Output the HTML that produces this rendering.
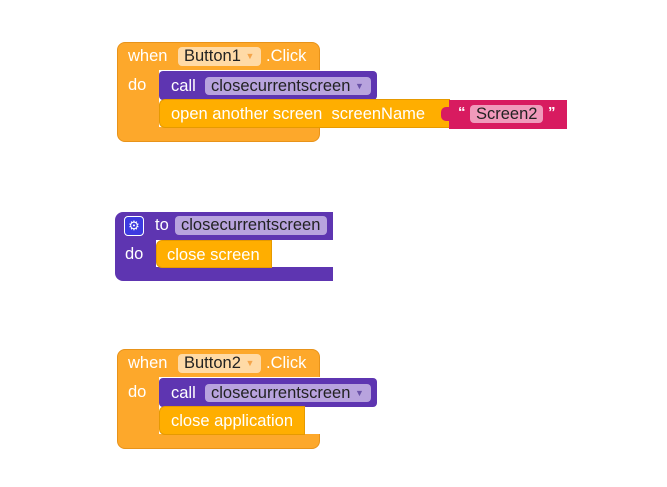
<!DOCTYPE html>
<html><head><meta charset="utf-8"><style>
body{margin:0;width:667px;height:487px;background:#fff;position:relative;overflow:hidden;font-family:"Liberation Sans",Arial,sans-serif;}
div{position:absolute;box-sizing:border-box;}
.t{color:#fff;font-size:16.5px;line-height:19px;white-space:nowrap;}
.ev{background:#FDA82B;border:1px solid #E8931A;border-radius:8px;}
.pu{background:#5E35B1;border-radius:4px;}
.or{background:#FFAE00;border:1px solid #E69A00;border-radius:6px 0 0 6px;}
.fld{border-radius:4px;color:#222;font-size:16.5px;line-height:19px;padding-left:6px;white-space:nowrap;}
.pf{background:#B8A3DE;}
.of{background:#FFDAA6;}
</style></head><body>

<!-- Block 1 -->
<div class="ev" style="left:117px;top:42px;width:203px;height:100px;"></div>
<div style="left:159px;top:70px;width:162px;height:57px;background:#fff;"></div>
<div class="t" style="left:128px;top:47px;">when</div>
<div class="fld of" style="left:178px;top:47px;width:83px;height:19px;">Button1 <span style="color:#F5A54A;font-size:9px;vertical-align:2px;">▼</span></div>
<div class="t" style="left:266px;top:47px;">.Click</div>
<div class="t" style="left:128px;top:76px;">do</div>
<div class="pu" style="left:159px;top:71px;width:218px;height:29px;"></div>
<div class="t" style="left:171px;top:77px;">call</div>
<div class="fld pf" style="left:205px;top:77px;width:166px;height:18px;line-height:18px;">closecurrentscreen <span style="color:#6a52a8;font-size:9px;vertical-align:2px;">▼</span></div>
<div class="or" style="left:159px;top:99px;width:291px;height:29px;"></div>
<div class="t" style="left:171px;top:105px;">open another screen&nbsp; screenName</div>
<div style="left:449px;top:100px;width:118px;height:29px;background:#D81B60;"></div>
<div style="left:441px;top:107px;width:10px;height:14px;background:#D81B60;border-radius:5px 0 0 5px;"></div>
<div class="t" style="left:458px;top:103px;font-size:15px;font-weight:bold;">“</div>
<div class="fld" style="left:470px;top:105px;width:73px;height:18px;line-height:18px;background:#F09ABB;">Screen2</div>
<div class="t" style="left:548px;top:103px;font-size:15px;font-weight:bold;">”</div>

<!-- Block 2 -->
<div style="left:115px;top:212px;width:218px;height:69px;background:#5E35B1;border-radius:8px 0 0 8px;"></div>
<div style="left:156px;top:240px;width:177px;height:27px;background:#fff;"></div>
<div style="left:124px;top:216px;width:20px;height:20px;background:#3D3AE0;border:1px solid #fff;border-radius:4px;color:#fff;font-size:13px;line-height:17px;text-align:center;">⚙</div>
<div class="t" style="left:155px;top:216px;">to</div>
<div class="fld pf" style="left:175px;top:216px;width:152px;height:19px;">closecurrentscreen</div>
<div class="t" style="left:125px;top:245px;">do</div>
<div class="or" style="left:156px;top:240px;width:116px;height:28px;"></div>
<div class="t" style="left:167px;top:246px;">close screen</div>

<!-- Block 3 -->
<div class="ev" style="left:117px;top:349px;width:203px;height:100px;"></div>
<div style="left:159px;top:377px;width:162px;height:57px;background:#fff;"></div>
<div class="t" style="left:128px;top:354px;">when</div>
<div class="fld of" style="left:178px;top:354px;width:83px;height:19px;">Button2 <span style="color:#F5A54A;font-size:9px;vertical-align:2px;">▼</span></div>
<div class="t" style="left:266px;top:354px;">.Click</div>
<div class="t" style="left:128px;top:383px;">do</div>
<div class="pu" style="left:159px;top:378px;width:218px;height:29px;"></div>
<div class="t" style="left:171px;top:384px;">call</div>
<div class="fld pf" style="left:205px;top:384px;width:166px;height:18px;line-height:18px;">closecurrentscreen <span style="color:#6a52a8;font-size:9px;vertical-align:2px;">▼</span></div>
<div class="or" style="left:159px;top:406px;width:146px;height:29px;"></div>
<div class="t" style="left:171px;top:412px;">close application</div>

</body></html>
